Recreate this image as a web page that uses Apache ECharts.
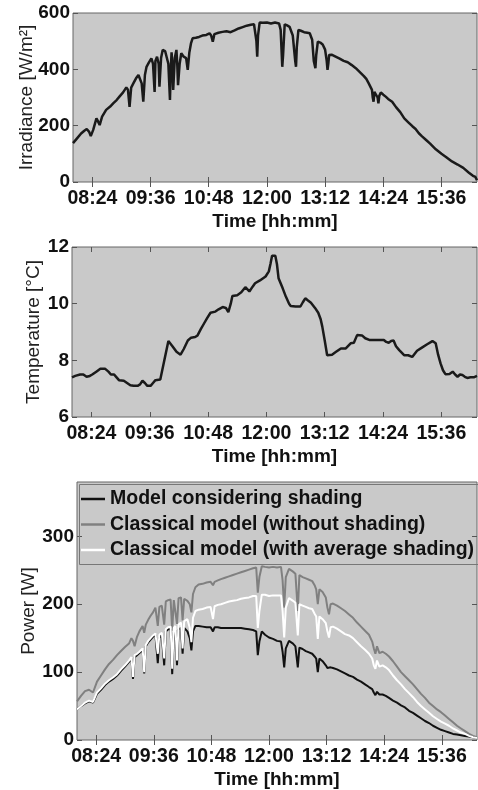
<!DOCTYPE html>
<html><head><meta charset="utf-8">
<script src="https://cdn.jsdelivr.net/npm/echarts@6/dist/echarts.min.js"></script>
<style>html,body{margin:0;padding:0;background:#fff}#c{width:478px;height:790px}</style>
</head><body><div id="c"></div>
<script>
// ---- tick labels (minutes since midnight) ----
const timeTicks = [504, 576, 648, 720, 792, 864, 936];

// ---- Panel 1: irradiance ----
const irrTime = [480,485,490,494,497,500,502,505,509,511,513,516,521,526,530,534,538,542,546,548,550,552,555,558,561,563,565,567,569,571,574,577,579,581,582,584,586,587,589,591,594,596,598,600,601,602,603,604,606,608,609,610,612,614,617,620,622,624,626,628,632,636,640,645,649,651,653,655,660,665,670,675,680,685,690,695,700,704,706,707,708,709,711,715,720,725,730,735,737,739,740,742,745,748,750,752,755,756,757,759,762,766,770,773,776,778,780,781,783,786,789,792,794,795,796,797,800,805,810,815,820,825,830,835,840,843,846,850,851,852,853,855,857,858,859,861,864,867,870,875,880,885,890,895,900,904,908,912,917,922,929,936,942,949,956,963,970,975,978,980];
const irrValue = [138,155,172,182,188,178,163,185,226,215,202,232,256,268,280,291,305,318,336,328,267,335,352,368,380,386,350,285,380,409,425,439,420,320,430,445,420,338,440,469,465,469,420,291,400,460,420,327,440,469,420,344,420,457,445,440,398,460,492,510,512,515,520,522,528,520,498,525,530,533,535,532,538,545,550,555,558,560,556,500,445,520,566,565,566,563,566,563,540,409,450,560,556,551,548,520,430,409,480,540,537,532,530,528,505,430,404,450,498,495,488,470,430,398,420,451,452,445,438,430,425,415,404,390,376,366,350,327,300,285,320,322,300,279,305,318,310,303,295,285,265,248,226,212,198,188,173,162,149,136,116,100,88,73,62,50,33,22,18,6];

// ---- Panel 2: temperature ----
const tempTime = [480,484,490,494,498,502,505,510,515,521,525,528,532,535,538,544,548,552,556,561,564,567,570,573,577,580,583,589,594,599,604,609,614,618,623,627,632,635,639,643,647,651,657,661,666,670,673,676,678,684,689,694,699,703,706,712,719,723,725,727,731,733,735,740,744,748,750,756,762,765,768,771,775,780,784,787,789,792,795,801,806,812,818,824,828,832,838,842,847,855,860,865,868,871,874,877,880,884,890,895,900,906,912,918,925,929,932,935,938,941,946,950,953,956,959,962,965,968,972,976,980];
const tempValue = [7.40,7.45,7.50,7.50,7.42,7.45,7.50,7.60,7.70,7.70,7.60,7.50,7.50,7.40,7.30,7.28,7.20,7.12,7.10,7.10,7.15,7.28,7.20,7.10,7.10,7.20,7.30,7.32,8.00,8.68,8.50,8.30,8.20,8.40,8.70,8.80,8.82,8.88,9.10,9.30,9.50,9.68,9.72,9.80,9.88,9.85,9.70,10.00,10.27,10.30,10.40,10.58,10.43,10.60,10.72,10.82,10.96,11.14,11.40,11.69,11.69,11.40,10.90,10.55,10.25,10.00,9.92,9.90,9.90,10.05,10.19,10.12,10.03,9.85,9.68,9.45,9.19,8.70,8.18,8.20,8.30,8.42,8.42,8.60,8.62,8.89,8.88,8.78,8.72,8.72,8.72,8.72,8.65,8.62,8.68,8.70,8.50,8.36,8.18,8.18,8.12,8.34,8.45,8.56,8.68,8.60,8.20,7.89,7.65,7.51,7.52,7.60,7.50,7.42,7.50,7.48,7.42,7.38,7.40,7.40,7.45];

// ---- Panel 3: power ----
const powTime = [480,485,490,495,500,505,510,515,520,525,530,535,540,545,548,550,552,555,558,562,564,566,569,572,575,578,581,583,586,589,591,594,597,599,601,603,605,607,610,612,614,618,621,623,625,628,632,637,642,647,650,652,656,660,665,670,675,680,685,690,695,700,704,706,708,711,715,720,725,730,735,737,739,741,745,750,753,756,758,762,766,770,774,777,779,781,783,787,791,793,795,797,800,805,810,815,820,825,830,835,840,845,849,851,853,855,858,862,866,870,875,880,885,890,895,900,905,910,915,920,925,930,935,940,945,950,955,960,965,970,975,980];
const powShading = [45,50,54,57,55,68,74,81,86,90,95,102,108,115,120,90,122,125,128,133,98,138,144,148,152,155,113,150,155,110,160,163,163,97,158,162,110,163,165,127,165,160,150,132,160,168,168,167,166,166,160,166,166,165,165,165,165,165,165,164,163,162,160,125,145,160,155,151,149,146,145,130,107,135,146,142,138,107,136,134,131,129,127,123,120,100,120,116,110,106,104,107,106,104,101,98,95,93,89,86,82,78,75,70,66,71,67,67,65,62,58,55,51,48,43,40,36,32,28,25,21,18,15,13,11,9,8,7,6,5,4,3];
const powNoShading = [57,65,72,74,70,86,95,104,112,118,125,131,137,142,150,146,138,152,160,168,158,170,177,183,188,195,168,196,198,170,204,206,207,161,206,208,171,209,210,176,208,205,200,188,215,225,229,230,232,233,228,233,235,237,239,241,243,245,247,249,251,253,254,217,240,256,255,254,255,254,255,235,195,240,252,248,245,190,243,240,238,236,234,228,222,200,222,218,210,195,185,200,201,198,194,190,185,180,173,167,161,155,145,135,127,138,128,130,127,123,116,108,100,94,88,82,75,68,62,55,50,45,41,36,31,26,21,17,13,9,6,4];
const powAvgShading = [45,50,55,58,56,70,76,83,88,92,97,104,110,117,122,93,125,127,130,135,100,140,146,150,154,157,127,155,158,120,163,166,167,105,165,168,117,170,173,135,175,178,165,144,180,190,192,193,195,196,178,197,199,200,202,204,205,206,208,209,210,212,212,165,190,214,214,212,213,213,213,190,151,195,209,205,202,154,200,198,196,194,193,186,182,149,182,178,172,160,151,166,167,164,160,156,154,150,144,138,133,127,120,110,105,117,108,110,107,103,95,88,82,75,69,63,56,50,45,40,35,31,27,24,21,17,14,11,9,6,4,3];

const seriesNames = ['Model considering shading', 'Classical model (without shading)', 'Classical model (with average shading)'];

const FONT = '"Liberation Sans", Arial, Helvetica, sans-serif';
const zip = (a, b) => a.map((t, i) => [t, b[i]]);
function hhmm(v) { const h = Math.floor(v / 60), m = Math.round(v % 60); return String(h).padStart(2, '0') + ':' + String(m).padStart(2, '0'); }

const tickStyle = { color: '#555', width: 1 };
const gridBase = { show: true, backgroundColor: '#c9c9c9', borderColor: '#666', borderWidth: 1, containLabel: false };

function xAxes(gi) {
  return [
    { type: 'value', gridIndex: gi, min: 480, max: 980, position: 'bottom',
      name: 'Time [hh:mm]', nameLocation: 'middle', nameGap: 30, nameMoveOverlap: false,
      nameTextStyle: { fontFamily: FONT, fontWeight: 'bold', fontSize: 19, color: '#111' },
      axisLine: { show: false }, splitLine: { show: false },
      axisTick: { inside: true, length: 5, customValues: timeTicks, lineStyle: tickStyle },
      axisLabel: { customValues: timeTicks, formatter: hhmm, fontFamily: FONT, fontWeight: 'bold', fontSize: 19.5, color: '#111', margin: 7 } },
    { type: 'value', gridIndex: gi, min: 480, max: 980, position: 'top',
      axisLine: { show: false }, splitLine: { show: false }, axisLabel: { show: false },
      axisTick: { inside: true, length: 5, customValues: timeTicks, lineStyle: tickStyle } }
  ];
}
function yAxes(gi, name, min, max, interval, ticks, nameGap) {
  const tk = ticks ? { customValues: ticks } : {};
  return [
    Object.assign({ type: 'value', gridIndex: gi, min, max, interval, position: 'left',
      name, nameLocation: 'middle', nameGap, nameMoveOverlap: false,
      nameTextStyle: { fontFamily: FONT, fontSize: 19, color: '#222' },
      axisLine: { show: false }, splitLine: { show: false },
      axisTick: Object.assign({ inside: true, length: 5, lineStyle: tickStyle }, tk),
      axisLabel: Object.assign({ fontFamily: FONT, fontWeight: 'bold', fontSize: 19, color: '#111', margin: 3 }, tk) }),
    { type: 'value', gridIndex: gi, min, max, interval, position: 'right',
      axisLine: { show: false }, splitLine: { show: false }, axisLabel: { show: false },
      axisTick: Object.assign({ inside: true, length: 5, lineStyle: tickStyle }, tk) }
  ];
}

const chart = echarts.init(document.getElementById('c'), null, { renderer: 'canvas' });
chart.setOption({
  animation: false,
  backgroundColor: '#ffffff',
  grid: [
    Object.assign({ left: 73, top: 13, width: 404, height: 169 }, gridBase),
    Object.assign({ left: 72, top: 247, width: 405, height: 170 }, gridBase),
    Object.assign({ left: 77, top: 482, width: 400, height: 260 }, gridBase)
  ],
  xAxis: [].concat(xAxes(0), xAxes(1), xAxes(2)),
  yAxis: [].concat(
    yAxes(0, 'Irradiance [W/m²]', 0, 600, 200, null, 37),
    yAxes(1, 'Temperature [°C]', 6, 12, 2, null, 29),
    yAxes(2, 'Power [W]', 0, 380, 100, [0, 100, 200, 300], 39)
  ),
  legend: {
    data: seriesNames, orient: 'vertical', left: 76, top: 484,
    itemWidth: 24, itemHeight: 2.5, itemGap: 5.5, icon: 'rect',
    textStyle: { fontFamily: FONT, fontWeight: 'bold', fontSize: 19.5, color: '#111' },
    selectedMode: false
  },
  graphic: [{ type: 'rect', z: 100, left: 77, top: 482, shape: { width: 400, height: 80 }, style: { fill: 'none', stroke: '#777', lineWidth: 1 } }],
  series: [
    { type: 'line', xAxisIndex: 0, yAxisIndex: 0, data: zip(irrTime, irrValue), showSymbol: false, symbol: 'none',
      lineStyle: { color: '#1a1a1a', width: 2.5 } },
    { type: 'line', xAxisIndex: 2, yAxisIndex: 2, data: zip(tempTime, tempValue), showSymbol: false, symbol: 'none',
      lineStyle: { color: '#1a1a1a', width: 2.5 } },
    { name: seriesNames[0], type: 'line', xAxisIndex: 4, yAxisIndex: 4, z: 3, data: zip(powTime, powShading), symbol: 'none',
      itemStyle: { color: '#111111' }, lineStyle: { color: '#111111', width: 2 } },
    { name: seriesNames[1], type: 'line', xAxisIndex: 4, yAxisIndex: 4, z: 2, data: zip(powTime, powNoShading), symbol: 'none',
      itemStyle: { color: '#808080' }, lineStyle: { color: '#808080', width: 2 } },
    { name: seriesNames[2], type: 'line', xAxisIndex: 4, yAxisIndex: 4, z: 4, data: zip(powTime, powAvgShading), symbol: 'none',
      itemStyle: { color: '#ffffff' }, lineStyle: { color: '#ffffff', width: 2 } }
  ]
});
</script></body></html>
